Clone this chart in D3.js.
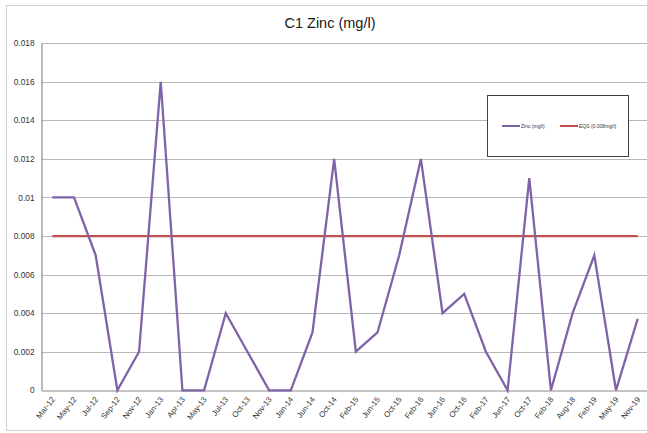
<!DOCTYPE html>
<html><head><meta charset="utf-8">
<script src="https://cdn.jsdelivr.net/npm/d3@7"></script>
<style>body{margin:0;background:#fff}svg{display:block}</style>
</head><body>
<svg id="chart" width="647" height="433"></svg>
<script>
const categories = ["Mar-12","May-12","Jul-12","Sep-12","Nov-12","Jan-13","Apr-13","May-13","Jul-13","Oct-13","Nov-13","Jan-14","Jun-14","Oct-14","Feb-15","Jun-15","Oct-15","Feb-16","Jun-16","Oct-16","Feb-17","Jun-17","Oct-17","Feb-18","Aug-18","Feb-19","May-19","Nov-19"];
const zinc = [0.01,0.01,0.007,0,0.002,0.016,0,0,0.004,0.002,0,0,0.003,0.012,0.002,0.003,0.007,0.012,0.004,0.005,0.002,0,0.011,0,0.004,0.007,0,0.0037];
const eqs = categories.map(() => 0.008);
const yTicks = [0,0.002,0.004,0.006,0.008,0.01,0.012,0.014,0.016,0.018];
const title = "C1 Zinc (mg/l)";
const legendLabels = ["Zinc (mg/l)","EQS (0.008mg/l)"];

(function(){
const svg = d3.select("#chart");
const pLeft = 41.5, pRight = 648.5, pTop = 43.2, pBottom = 390.3;
const x = d3.scaleBand().domain(categories).range([pLeft, pRight]);
const y = d3.scaleLinear().domain([0, 0.018]).range([pBottom, pTop]);
const cx = d => x(d) + x.bandwidth()/2;
const font = "'Liberation Sans', Arial, sans-serif";

// outer border
svg.append("rect").attr("x",6.5).attr("y",5.5).attr("width",660).attr("height",425)
  .attr("fill","none").attr("stroke","#d0d0d0").attr("stroke-width",1);

// title
svg.append("text").attr("x",330).attr("y",28).attr("text-anchor","middle")
  .attr("font-family",font).attr("font-size",14.5).attr("fill","#1a1a1a").text(title);

// gridlines
svg.append("g").selectAll("line").data(yTicks.filter(d=>d>0)).join("line")
  .attr("x1",pLeft).attr("x2",pRight).attr("y1",d=>Math.round(y(d))+0.5).attr("y2",d=>Math.round(y(d))+0.5)
  .attr("stroke","#b8b8b8").attr("stroke-width",1.2);

// y axis
const yAxis = svg.append("g").attr("transform",`translate(${pLeft},0)`)
  .call(d3.axisLeft(y).tickValues(yTicks).tickSize(0).tickPadding(7).tickFormat(d=>String(+d.toFixed(3))));
yAxis.select(".domain").attr("stroke","#8a8a8a").attr("stroke-width",1.2);
yAxis.selectAll("text").attr("font-family",font).attr("font-size",8.3).attr("fill","#333");

// x axis
const xAxis = svg.append("g").attr("transform",`translate(0,${Math.round(pBottom)+0.5})`)
  .call(d3.axisBottom(x).tickSize(0).tickPadding(0));
xAxis.select(".domain").attr("stroke","#8a8a8a").attr("stroke-width",1.2);
xAxis.selectAll("text").attr("font-family",font).attr("font-size",7.9).attr("fill","#333")
  .attr("text-anchor","end").attr("dy",0).attr("y",0)
  .attr("transform","translate(3,9) rotate(-52)");

// lines
const line = d3.line().x((d,i)=>cx(categories[i])).y(d=>y(d));
svg.append("path").datum(eqs).attr("d",line).attr("fill","none")
  .attr("stroke","#C0504D").attr("stroke-width",2.3);
svg.append("path").datum(zinc).attr("d",line).attr("fill","none")
  .attr("stroke","#7F63A8").attr("stroke-width",2.3).attr("stroke-linejoin","miter");

// legend
const lg = svg.append("g");
lg.append("rect").attr("x",487.5).attr("y",95.5).attr("width",141).attr("height",61)
  .attr("fill","#fff").attr("stroke","#404040").attr("stroke-width",1);
const items = [{c:"#7F63A8",x:502},{c:"#C0504D",x:560}];
items.forEach((it,i)=>{
  lg.append("line").attr("x1",it.x).attr("x2",it.x+18).attr("y1",126).attr("y2",126)
    .attr("stroke",it.c).attr("stroke-width",2);
  lg.append("text").attr("x",it.x+19).attr("y",127.8).attr("font-family",font)
    .attr("font-size",5).attr("fill","#333").text(legendLabels[i]);
});
})();
</script>
</body></html>
